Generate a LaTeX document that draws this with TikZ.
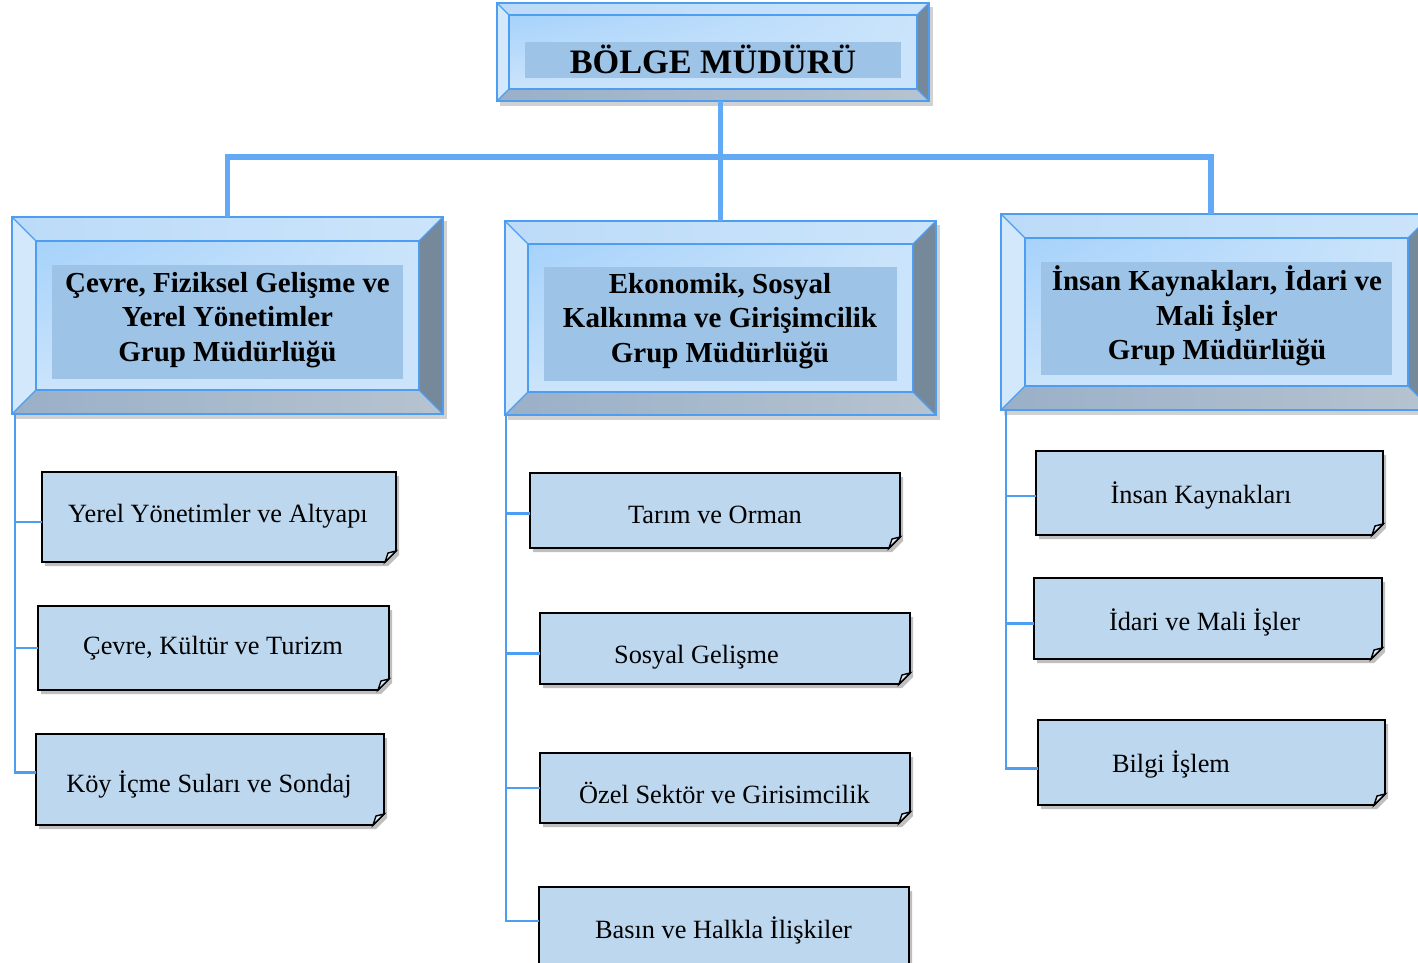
\documentclass[tikz,border=0pt]{standalone}
\usepackage{fontspec}
\setmainfont{Liberation Serif}
\usetikzlibrary{fit,calc,shadings}
\definecolor{bvlinec}{HTML}{4D9DF1}
\definecolor{trunkc}{HTML}{62AAF5}
\definecolor{branchc}{HTML}{4C9EF2}
\definecolor{bandc}{HTML}{9DC3E6}
\definecolor{subc}{HTML}{BDD7EE}
\definecolor{foldc}{HTML}{DDEBF7}
\definecolor{topA}{HTML}{BCDBF8}
\definecolor{topB}{HTML}{CBE4FB}
\definecolor{leftc}{HTML}{D3E8FB}
\definecolor{rightc}{HTML}{76899B}
\definecolor{botA}{HTML}{9AB0C8}
\definecolor{botB}{HTML}{B6C3D0}
\definecolor{faceA}{HTML}{A6D2FB}
\definecolor{faceB}{HTML}{CBE4FB}
\tikzset{
  bvline/.style={draw=bvlinec, line width=1.1pt},
  bvthin/.style={draw=bvlinec, line width=0.7pt},
  trunk/.style={draw=trunkc, line width=3.4pt},
  branch/.style={draw=branchc, line width=1.3pt},
  hdr/.style={font=\fontsize{16.5}{19.6}\selectfont\bfseries, align=center, inner sep=0pt, anchor=center},
  toptext/.style={font=\fontsize{19.5}{23}\selectfont\bfseries, inner sep=0pt, anchor=base},
  subtext/.style={font=\fontsize{15}{18}\selectfont, inner sep=0pt, anchor=base},
  boxname/.style={inner sep=0pt, draw=none},
}
% #1 name, #2 l, #3 t, #4 r, #5 b, #6 bevel, #7 band top offset
\newcommand\bevelbox[7]{%
  \fill[black, opacity=.18] (#2+3,#3+4) rectangle (#4+4,#5+5);
  \shade[left color=topA, right color=topB] (#2,#3) -- (#4,#3) -- (#4-#6,#3+#6) -- (#2+#6,#3+#6) -- cycle;
  \fill[leftc] (#2,#3) -- (#2+#6,#3+#6) -- (#2+#6,#5-#6) -- (#2,#5) -- cycle;
  \fill[rightc] (#4,#3) -- (#4,#5) -- (#4-#6,#5-#6) -- (#4-#6,#3+#6) -- cycle;
  \shade[left color=botA, right color=botB] (#2,#5) -- (#2+#6,#5-#6) -- (#4-#6,#5-#6) -- (#4,#5) -- cycle;
  \shade[upper left=faceA, upper right=faceB, lower left=faceB, lower right=faceB] (#2+#6,#3+#6) rectangle (#4-#6,#5-#6);
  \fill[bandc] (#2+#6+16,#3+#6+#7) rectangle (#4-#6-16,#5-#6-11);
  \draw[bvthin] (#2,#3) -- (#2+#6,#3+#6) (#4,#3) -- (#4-#6,#3+#6) (#2,#5) -- (#2+#6,#5-#6) (#4,#5) -- (#4-#6,#5-#6);
  \draw[bvline] (#2+#6,#3+#6) rectangle (#4-#6,#5-#6);
  \draw[bvline] (#2,#3) rectangle (#4,#5);
  \node[boxname, fit={(#2,#3) (#4,#5)}] (#1) {};
}
% #1 name, #2 l, #3 t, #4 r, #5 b
\newcommand\subbox[5]{%
  \fill[black, opacity=.25] (#2+3,#3+4) -- (#4+3,#3+4) -- (#4+3,#5+4-11) -- (#4+3-11,#5+4) -- (#2+3,#5+4) -- cycle;
  \filldraw[fill=subc, draw=black, line width=1pt] (#2,#3) -- (#4,#3) -- (#4,#5-11) -- (#4-11,#5) -- (#2,#5) -- cycle;
  \filldraw[fill=foldc, draw=black, line width=0.8pt] (#4-11,#5) .. controls (#4-10,#5-5) .. (#4-8,#5-9) -- (#4,#5-11) -- cycle;
  \node[boxname, fit={(#2,#3) (#4,#5)}] (#1) {};
}
\begin{document}
\begin{tikzpicture}[x=0.02cm, y=-0.02cm]
\useasboundingbox (0,0) rectangle (1418,963);
\clip (0,0) rectangle (1418,963);
\fill[white] (0,0) rectangle (1418,963);

% top box
\bevelbox{top}{497}{3}{929}{101}{12}{27}
\node[toptext] (toptx) at (713,74) {BÖLGE MÜDÜRÜ};

% group boxes
\bevelbox{g1}{12}{217}{443}{414}{24}{24}
\bevelbox{g2}{505}{221}{936}{415}{23}{23}
\bevelbox{g3}{1001}{214}{1432}{410}{24}{24}

\node[hdr] (g1t) at (227.5,320) {Çevre, Fiziksel Gelişme ve\\Yerel Yönetimler\\Grup Müdürlüğü};
\node[hdr] (g2t) at (720,321) {Ekonomik, Sosyal\\Kalkınma ve Girişimcilik\\Grup Müdürlüğü};
\node[hdr] (g3t) at (1217,316) {İnsan Kaynakları, İdari ve\\Mali İşler\\Grup Müdürlüğü};

% trunk connectors
\coordinate (busy) at (0,157);
\coordinate (g3top) at ($(g3.north west)+(210,0)$);
\draw[trunk] (g1.north) -- (g1.north |- busy) -- (g3top |- busy) -- (g3top);
\draw[trunk] (top.south -| g2.north) -- (g2.north);

% sub boxes
\subbox{s11}{42}{472}{396}{562}
\subbox{s12}{38}{606}{389}{690}
\subbox{s13}{36}{734}{384}{825}
\subbox{s21}{530}{473}{900}{548}
\subbox{s22}{540}{613}{910}{684}
\subbox{s23}{540}{753}{910}{823}
\subbox{s24}{539}{887}{909}{985}
\subbox{s31}{1036}{451}{1383}{535}
\subbox{s32}{1034}{578}{1382}{659}
\subbox{s33}{1038}{720}{1385}{805}

\node[subtext] (s11t) at (218,522) {Yerel Yönetimler ve Altyapı};
\node[subtext] (s12t) at (213,654) {Çevre, Kültür ve Turizm};
\node[subtext] (s13t) at (209,792) {Köy İçme Suları ve Sondaj};
\node[subtext] (s21t) at (715,523) {Tarım ve Orman};
\node[subtext] (s22t) at (696.5,663) {Sosyal Gelişme};
\node[subtext] (s23t) at (724.5,803) {Özel Sektör ve Girisimcilik};
\node[subtext] (s24t) at (723.5,938) {Basın ve Halkla İlişkiler};
\node[subtext] (s31t) at (1201,503) {İnsan Kaynakları};
\node[subtext] (s32t) at (1204.5,630) {İdari ve Mali İşler};
\node[subtext] (s33t) at (1171,772) {Bilgi İşlem};

% branch connectors
\coordinate (b1) at ($(g1.south west)+(3,0)$);
\coordinate (b2) at ($(g2.south west)+(1,0)$);
\coordinate (b3) at ($(g3.south west)+(5,0)$);
\draw[branch] (b1) |- ($(s11.west)+(0,5)$);
\draw[branch] (b1) |- (s12.west);
\draw[branch] (b1) |- ($(s13.west)+(0,-7)$);
\draw[branch] (b2) |- ($(s21.west)+(0,3)$);
\draw[branch] (b2) |- ($(s22.west)+(0,5)$);
\draw[branch] (b2) |- (s23.west);
\draw[branch] (b2) |- ($(s24.west)+(0,-15)$);
\draw[branch] (b3) |- ($(s31.west)+(0,3)$);
\draw[branch] (b3) |- ($(s32.west)+(0,5)$);
\draw[branch] (b3) |- ($(s33.west)+(0,6)$);
\end{tikzpicture}
\end{document}
